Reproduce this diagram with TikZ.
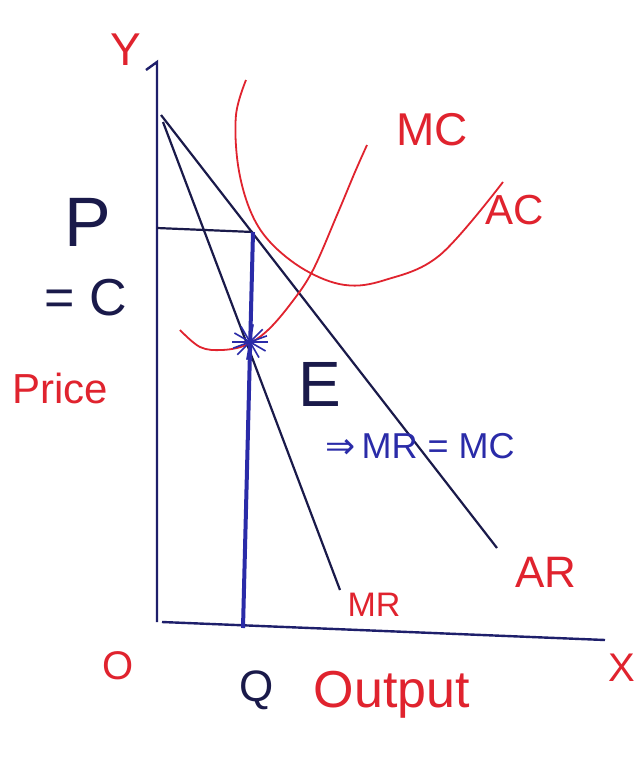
\documentclass[tikz,border=0pt]{standalone}
\usepackage{fontspec}
\setmainfont{Liberation Sans}
\newfontfamily\dejavu{DejaVu Sans}
\definecolor{navy}{HTML}{1E1F6B}
\definecolor{ink}{HTML}{1A1A4A}
\definecolor{pen}{HTML}{2A2BA8}
\definecolor{redpen}{HTML}{E0232E}
\begin{document}
\begin{tikzpicture}[x=1pt,y=-1pt,
  axis/.style={draw=navy,line width=2.4pt},
  curve/.style={draw=ink,line width=2.2pt},
  costcurve/.style={draw=redpen,line width=1.8pt,smooth,tension=0.6},
  redlbl/.style={text=redpen,inner sep=0pt},
  blulbl/.style={text=ink,inner sep=0pt}]
\path[use as bounding box,fill=white] (0,0) rectangle (642,766);
% axes
\coordinate (ytop) at (157,62);
\coordinate (orig) at (157,622);
\coordinate (xend) at (605,640);
\coordinate (yhook) at (146,70);
\draw[axis] (yhook) -- (ytop) -- (orig);
\draw[axis] (162,622) -- (xend);
% demand and MR
\coordinate (arA) at (161,115);
\coordinate (arB) at (497,548);
\coordinate (mrA) at (163,122);
\coordinate (mrB) at (340,590);
\draw[curve] (arA) -- (arB);
\draw[curve] (mrA) -- (mrB);
% price line and quantity line
\coordinate (pY) at (157,228);
\coordinate (pt) at (253,232);
\coordinate (qB) at (243,628);
\draw[curve] (pY) -- (pt);
\draw[draw=pen,line width=4pt] (pt) -- (qB);
% AC
\draw[costcurve] plot coordinates {(246,80) (236,115) (238,165) (250,210) (270,242) (305,270) (345,285) (385,280) (440,255) (503,182)};
% MC
\draw[costcurve] plot coordinates {(180,330) (200,347) (222,350) (246,345) (268,330) (292,302) (313,270) (337,215) (355,172) (367,145)};
% E star
\coordinate (E) at (250,342);
\foreach \a in {0,30,60,100,135,160}{
  \draw[pen,line width=1.6pt] (E) ++(\a:18) -- ++(\a+180:36);
}
% labels
\node[redlbl,font=\fontsize{46}{50}\selectfont] (ylbl) at (126,50) {Y};
\node[redlbl,font=\fontsize{40}{44}\selectfont] (xlbl) at (622,668) {X};
\node[redlbl,font=\fontsize{40}{44}\selectfont] (olbl) at (118,666) {O};
\node[blulbl,font=\fontsize{44}{48}\selectfont] (qlbl) at (257,690) {Q};
\node[redlbl,font=\fontsize{52}{56}\selectfont] (outlbl) at (392,695) {Output};
\node[redlbl,font=\fontsize{46}{50}\selectfont] (mclbl) at (432,130) {MC};
\node[redlbl,font=\fontsize{42}{46}\selectfont] (aclbl) at (515,210) {AC};
\node[redlbl,font=\fontsize{44}{48}\selectfont] (arlbl) at (546,572) {AR};
\node[redlbl,font=\fontsize{34}{38}\selectfont] (mrlbl) at (374,605) {MR};
\node[blulbl,font=\fontsize{64}{68}\selectfont] (elbl) at (320,384) {E};
\node[blulbl,font=\fontsize{36}{40}\selectfont,text=pen] (eqlbl) at (420,446) {{\dejavu ⇒}\,MR = MC};
\node[blulbl,font=\fontsize{70}{74}\selectfont] (plbl) at (88,222) {P};
\node[blulbl,font=\fontsize{52}{56}\selectfont] (clbl) at (86,298) {= C};
\node[redlbl,font=\fontsize{42}{46}\selectfont] (pricelbl) at (60,388) {Price};
\end{tikzpicture}
\end{document}
